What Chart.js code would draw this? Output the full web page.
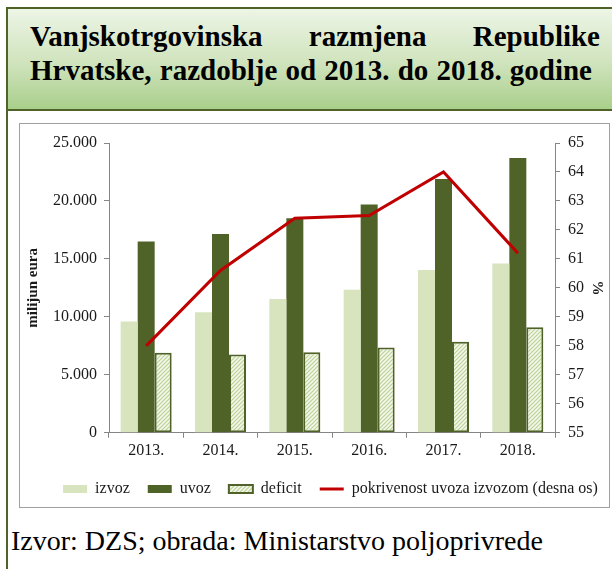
<!DOCTYPE html>
<html>
<head>
<meta charset="utf-8">
<script src="https://cdn.jsdelivr.net/npm/chart.js@4.4.1/dist/chart.umd.min.js"></script>
<style>
  html, body { margin: 0; padding: 0; background: #fff; }
  body { width: 612px; height: 569px; overflow: hidden; position: relative; font-family: 'Liberation Serif', 'Times New Roman', serif; }
  #frame { position: absolute; left: 6px; top: 7px; width: 700px; height: 700px; border-left: 2px solid #4f6228; }
  #titlebox {
    position: absolute; left: 6px; top: 7px; width: 700px; height: 100px;
    border-top: 2px solid #4f6228; border-bottom: 2px solid #4f6228; border-left: 2px solid #4f6228;
    background: linear-gradient(180deg, #edf5e6 0%, #cfe3bc 55%, #a9cf8b 100%);
  }
  .tline { position: absolute; left: 30px; font-size: 29px; font-weight: bold; line-height: 34px; color: #000;
    text-align: justify; text-align-last: justify; white-space: nowrap; }
  #t1 { top: 19px; width: 570px; }
  #t2 { top: 53px; width: 562px; }
  #chartbox { position: absolute; left: 19px; top: 123px; width: 591px; height: 385px; border: 1px solid #a0a0a0; box-sizing: border-box; background: #fff; }
  #chartbox canvas { display: block; }
  #source { position: absolute; left: 11px; top: 525px; font-size: 28px; line-height: 31px; color: #000; white-space: nowrap; }
</style>
</head>
<body>
<div id="frame"></div>
<div id="titlebox"></div>
<div class="tline" id="t1">Vanjskotrgovinska razmjena Republike</div>
<div class="tline" id="t2">Hrvatske, razdoblje od 2013. do 2018. godine</div>
<div id="chartbox"><canvas id="chart" width="589" height="383"></canvas></div>
<div id="source">Izvor: DZS; obrada: Ministarstvo poljoprivrede</div>
<script>
// Data (milijun eura, %)
const years = ['2013.', '2014.', '2015.', '2016.', '2017.', '2018.'];
const izvoz = [9600, 10400, 11550, 12350, 14050, 14600];
const uvoz = [16500, 17150, 18500, 19700, 21900, 23700];
const deficit = [6900, 6750, 6950, 7350, 7850, 9100];
const pokrivenost = [58.0, 60.6, 62.4, 62.5, 64.0, 61.2];

// Axis ranges
const LEFT_MIN = 0, LEFT_MAX = 25000, LEFT_STEP = 5000;
const RIGHT_MIN = 55, RIGHT_MAX = 65, RIGHT_STEP = 1;

const AXIS_COLOR = '#868686';
const TEXT_COLOR = '#1a1a1a';
const FONT = "'Liberation Serif', 'Times New Roman', serif";

Chart.defaults.font.family = FONT;
Chart.defaults.font.size = 16;
Chart.defaults.color = TEXT_COLOR;

// thousands separator with a dot
function formatThousands(v) {
  return String(v).replace(/\B(?=(\d{3})+(?!\d))/g, '.');
}

// hatched fill for the deficit bars
function makeHatch(ctx) {
  const c = document.createElement('canvas');
  c.width = 4; c.height = 4;
  const g = c.getContext('2d');
  g.fillStyle = '#f3f7ec';
  g.fillRect(0, 0, 4, 4);
  g.strokeStyle = '#bcd394';
  g.lineWidth = 1.2;
  g.beginPath();
  g.moveTo(0, 4); g.lineTo(4, 0);
  g.moveTo(-1, 1); g.lineTo(1, -1);
  g.moveTo(3, 5); g.lineTo(5, 3);
  g.stroke();
  return ctx.createPattern(c, 'repeat');
}

// move the legend a little to the right, as in the original
const legendShift = {
  id: 'legendShift',
  afterLayout(chart) {
    chart.legend.left += 16;
    chart.legend.right += 16;
  }
};

const ctx = document.getElementById('chart').getContext('2d');
const hatch = makeHatch(ctx);

new Chart(ctx, {
  data: {
    labels: years,
    datasets: [
      {
        type: 'bar', label: 'izvoz', data: izvoz,
        backgroundColor: '#d7e4bd', borderWidth: 0,
        pointStyle: 'rect', order: 1, yAxisID: 'y'
      },
      {
        type: 'bar', label: 'uvoz', data: uvoz,
        backgroundColor: '#4f6228', borderWidth: 0,
        pointStyle: 'rect', order: 1, yAxisID: 'y'
      },
      {
        type: 'bar', label: 'deficit', data: deficit,
        backgroundColor: hatch, borderColor: '#4f6228', borderWidth: 2, borderSkipped: false,
        pointStyle: 'rect', order: 1, yAxisID: 'y'
      },
      {
        type: 'line', label: 'pokrivenost uvoza izvozom (desna os)', data: pokrivenost,
        borderColor: '#c00000', backgroundColor: '#c00000', borderWidth: 3,
        pointRadius: 0, tension: 0, pointStyle: 'line', order: 0, yAxisID: 'y1'
      }
    ]
  },
  options: {
    responsive: false,
    animation: false,
    datasets: {
      bar: { categoryPercentage: 0.686, barPercentage: 1.0 }
    },
    layout: { padding: { top: 19, left: 0, right: 0, bottom: 0 } },
    plugins: {
      tooltip: { enabled: false },
      legend: {
        position: 'bottom',
        labels: {
          usePointStyle: true,
          pointStyleWidth: 24,
          boxHeight: 8,
          padding: 18,
          color: TEXT_COLOR,
          font: { size: 16 },
          sort: (a, b) => a.datasetIndex - b.datasetIndex
        }
      }
    },
    scales: {
      x: {
        grid: { display: true, drawOnChartArea: false, drawTicks: true, tickLength: 5, color: AXIS_COLOR, offset: true },
        border: { display: true, color: AXIS_COLOR },
        ticks: { padding: 3, color: TEXT_COLOR, font: { size: 16 } }
      },
      y: {
        position: 'left',
        min: LEFT_MIN, max: LEFT_MAX,
        afterFit: (scale) => { scale.width = 89; },
        grid: { display: true, drawOnChartArea: false, drawTicks: true, tickLength: 5, color: AXIS_COLOR },
        border: { display: true, color: AXIS_COLOR },
        ticks: { stepSize: LEFT_STEP, padding: 7, color: TEXT_COLOR, font: { size: 16 }, callback: (v) => formatThousands(v) },
        title: { display: true, text: 'milijun eura', color: TEXT_COLOR, font: { size: 15, weight: 'bold' }, padding: { top: 4, bottom: 0 } }
      },
      y1: {
        position: 'right',
        min: RIGHT_MIN, max: RIGHT_MAX,
        afterFit: (scale) => { scale.width = 54; },
        grid: { display: true, drawOnChartArea: false, drawTicks: true, tickLength: 5, color: AXIS_COLOR },
        border: { display: true, color: AXIS_COLOR },
        ticks: { stepSize: RIGHT_STEP, padding: 8, color: TEXT_COLOR, font: { size: 16 } },
        title: { display: true, text: '%', color: TEXT_COLOR, font: { size: 15, weight: 'bold' }, padding: { top: 3, bottom: 0 } }
      }
    }
  },
  plugins: [legendShift]
});
</script>
</body>
</html>
